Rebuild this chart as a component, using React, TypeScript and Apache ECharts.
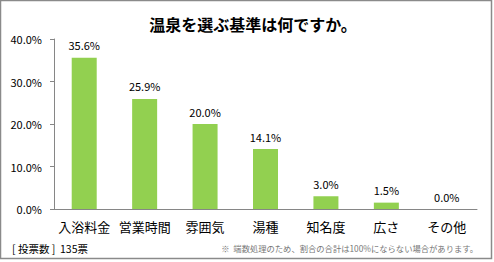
import React, { useEffect, useRef } from "react";
import * as echarts from "echarts";

const categories = ["入浴料金", "営業時間", "雰囲気", "湯種", "知名度", "広さ", "その他"];
const values = [35.6, 25.9, 20.0, 14.1, 3.0, 1.5, 0.0];
const titleText = "温泉を選ぶ基準は何ですか。";
const voteText = "[ 投票数 ]  135票";
const noteText = "※  端数処理のため、割合の合計は100%にならない場合があります。";

const FONT = "'Noto Sans CJK JP', 'Noto Sans', sans-serif";

export default function App() {
  const ref = useRef<HTMLDivElement>(null);
  useEffect(() => {
    if (!ref.current) return;
    const chart = echarts.init(ref.current, null, { renderer: "svg" });
    chart.setOption({
      animation: false,
      backgroundColor: "#ffffff",
      textStyle: { fontFamily: FONT },
      title: {
        text: titleText,
        left: 248,
        textAlign: "center",
        top: 11,
        textStyle: { fontSize: 16, fontWeight: "bold", color: "#000", fontFamily: FONT },
      },
      grid: { left: 54, right: 17, top: 39, bottom: 53, containLabel: false },
      xAxis: {
        type: "category",
        data: categories,
        axisLine: { lineStyle: { color: "#868686", width: 1 } },
        axisTick: { show: false },
        axisLabel: { fontSize: 13, color: "#000", margin: 11, fontFamily: FONT, interval: 0 },
      },
      yAxis: {
        type: "value",
        min: 0,
        max: 40,
        interval: 10,
        splitLine: { show: false },
        axisLine: { show: true, lineStyle: { color: "#868686", width: 1 } },
        axisTick: { show: true, length: 4, lineStyle: { color: "#868686" } },
        axisLabel: {
          fontSize: 11,
          color: "#000",
          margin: 12,
          fontFamily: FONT,
          formatter: (v: number) => v.toFixed(1) + "%",
        },
      },
      series: [
        {
          type: "bar",
          data: values,
          barWidth: 25,
          itemStyle: { color: "#92D050" },
          label: {
            show: true,
            position: "top",
            distance: 7,
            fontSize: 11,
            color: "#000",
            fontFamily: FONT,
            formatter: (p: any) => Number(p.value).toFixed(1) + "%",
          },
        },
      ],
      graphic: [
        {
          type: "rect",
          shape: { x: 0.5, y: 0.5, width: 491, height: 258 },
          style: { fill: "none", stroke: "#8a8a8a", lineWidth: 1.5 },
          silent: true,
        },
        {
          type: "text",
          x: 12,
          y: 248,
          style: { text: voteText, fontSize: 10.5, fill: "#000", fontFamily: FONT, verticalAlign: "middle" },
        },
        {
          type: "text",
          x: 478,
          y: 248,
          style: {
            text: noteText,
            fontSize: 8.3,
            fill: "#777",
            fontFamily: FONT,
            align: "right",
            verticalAlign: "middle",
          },
        },
      ],
    });
    return () => chart.dispose();
  }, []);
  return (
    <div
      ref={ref}
      style={{ position: "fixed", left: 0, top: 0, width: 494, height: 262 }}
    />
  );
}
